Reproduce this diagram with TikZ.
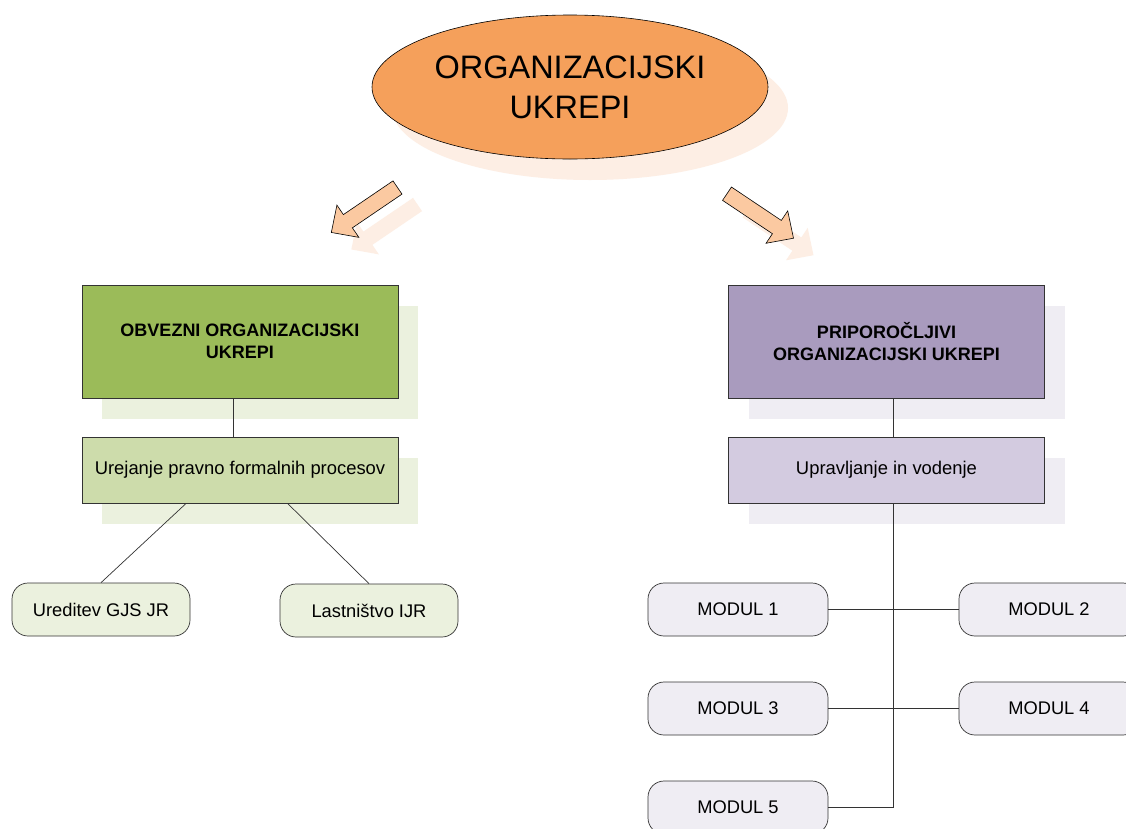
\documentclass[tikz,border=0pt]{standalone}
\usepackage{fontspec}
\setmainfont{Liberation Sans}
\usetikzlibrary{shapes.geometric,shadows,calc}

\definecolor{orangefill}{HTML}{F5A05B}
\definecolor{orangeshade}{HTML}{FDEEE4}
\definecolor{arrowfill}{HTML}{FBC9A1}
\definecolor{arrowshade}{HTML}{FDEEE4}
\definecolor{greenfill}{HTML}{9BBB59}
\definecolor{greenlight}{HTML}{CDDCAB}
\definecolor{greenshade}{HTML}{EBF1DE}
\definecolor{purplefill}{HTML}{A99BBE}
\definecolor{purplelight}{HTML}{D3CBE0}
\definecolor{purpleshade}{HTML}{EFEDF3}
\definecolor{modfill}{HTML}{EFEDF3}
\definecolor{edgegray}{HTML}{333333}

\tikzset{
  blockarrow/.pic={
    \path[pic actions] (0,-8) -- (60,-8) -- (60,-19.5) -- (80,0)
      -- (60,19.5) -- (60,8) -- (0,8) -- cycle;
  },
  arrowbody/.style={draw=black, line width=0.6pt, fill=arrowfill},
  arrowghost/.style={fill=arrowshade},
  titlenode/.style={ellipse, draw=black, line width=0.6pt, fill=orangefill,
    minimum width=396pt, minimum height=144pt, inner sep=0pt, align=center,
    font=\fontsize{32.5}{40}\selectfont,
    drop shadow={shadow xshift=20pt, shadow yshift=-21pt, fill=orangeshade, opacity=1}},
  headbox/.style={rectangle, draw=edgegray, line width=0.7pt, fill=#1,
    minimum width=316pt, minimum height=113pt, inner sep=0pt, align=center,
    font=\fontsize{18}{22}\selectfont\bfseries},
  subbox/.style={rectangle, draw=edgegray, line width=0.7pt, fill=#1,
    minimum width=316pt, minimum height=66pt, inner sep=0pt, align=center,
    font=\fontsize{18.4}{22}\selectfont},
  greenshadow/.style={drop shadow={shadow xshift=20pt, shadow yshift=-21pt, fill=greenshade, opacity=1}},
  purpleshadow/.style={drop shadow={shadow xshift=20pt, shadow yshift=-21pt, fill=purpleshade, opacity=1}},
  leaf/.style={rectangle, rounded corners=16pt, draw=edgegray, line width=0.7pt,
    fill=#1, minimum width=178pt, minimum height=53pt, inner sep=0pt,
    font=\fontsize{18.3}{22}\selectfont},
  link/.style={draw=edgegray, line width=0.7pt},
}

\begin{document}
\begin{tikzpicture}[x=1pt, y=-1pt]
\useasboundingbox (0,0) rectangle (1126,828);
\clip (0,0) rectangle (1126,828);
\fill[white] (0,0) rectangle (1126,828);

% main topic
\node[titlenode] (title) at (570,87) {ORGANIZACIJSKI\\UKREPI};

% block arrows pointing to the two branches
\pic[arrowghost, rotate=214.2] at (417.5,204.5) {blockarrow};
\pic[arrowghost, rotate=-33.8] at (747,210.7) {blockarrow};
\pic[arrowbody, rotate=214.2] at (397.5,187.5) {blockarrow};
\pic[arrowbody, rotate=-33.8] at (727,193.7) {blockarrow};

% mandatory branch
\node[headbox=greenfill, greenshadow] (gh) at (240,341.5) {OBVEZNI ORGANIZACIJSKI\\UKREPI};
\node[subbox=greenlight, greenshadow] (gs) at (240,470) {Urejanje pravno formalnih procesov};
\node[leaf=greenshade] (g1) at (101,609.5) {Ureditev GJS JR};
\node[leaf=greenshade] (g2) at (369,610.5) {Lastništvo IJR};

% recommended branch
\node[headbox=purplefill, purpleshadow] (ph) at (886.5,341.5) {PRIPOROČLJIVI\\ORGANIZACIJSKI UKREPI};
\node[subbox=purplelight, purpleshadow] (ps) at (886.5,470) {Upravljanje in vodenje};
\node[leaf=modfill, minimum width=180pt] (m1) at (738,609.5) {MODUL 1};
\node[leaf=modfill, minimum width=180pt] (m2) at (1049,609.5) {MODUL 2};
\node[leaf=modfill, minimum width=180pt] (m3) at (738,708.5) {MODUL 3};
\node[leaf=modfill, minimum width=180pt] (m4) at (1049,708.5) {MODUL 4};
\node[leaf=modfill, minimum width=180pt] (m5) at (738,807.5) {MODUL 5};

% connectors
\coordinate (gtrunk) at (233.3,0);
\coordinate (ptrunk) at (893.3,0);
\draw[link] (gh.south -| gtrunk) -- (gs.north -| gtrunk);
\draw[link] ($(gs.south west)!0.33!(gs.south east)$) -- (g1.north);
\draw[link] ($(gs.south west)!0.65!(gs.south east)$) -- (g2.north);
\draw[link] (ph.south -| ptrunk) -- (ps.north -| ptrunk);
\draw[link] (ps.south -| ptrunk) |- (m5.east);
\draw[link] (m1.east) -- (m2.west);
\draw[link] (m3.east) -- (m4.west);
\end{tikzpicture}
\end{document}
